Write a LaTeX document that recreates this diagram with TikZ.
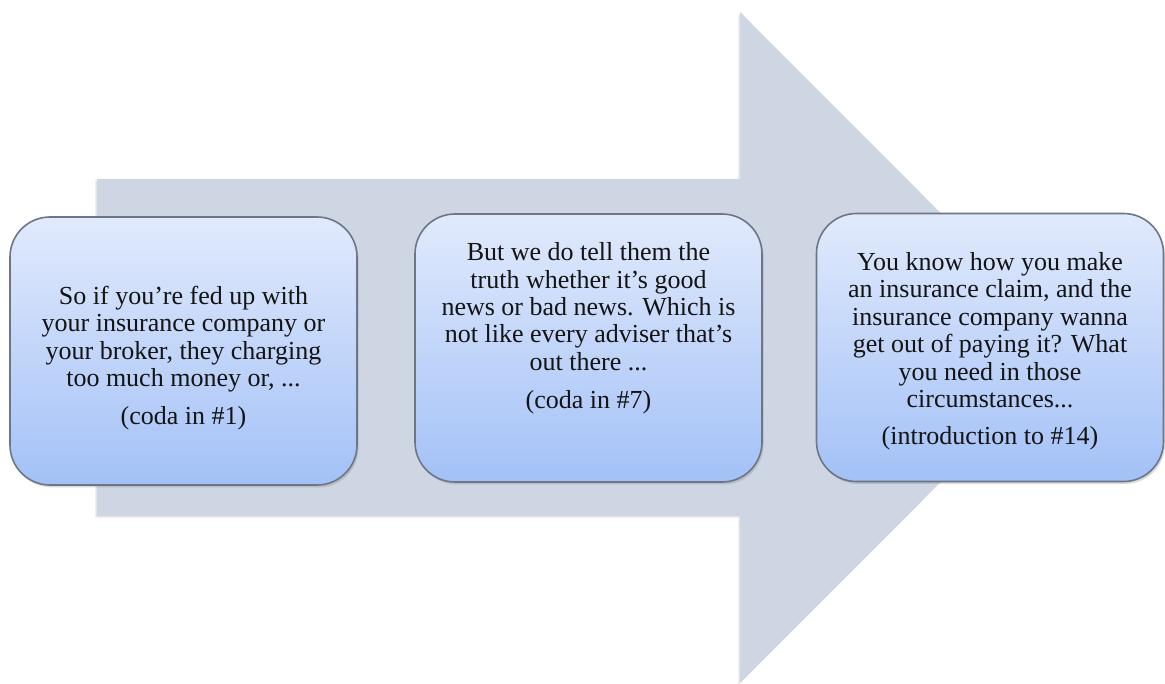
\documentclass[tikz,border=0pt]{standalone}
\usepackage{fontspec}
\setmainfont{Liberation Serif}
\usetikzlibrary{positioning,shadows}
\definecolor{inkBlack}{RGB}{20, 20, 20}
\definecolor{arrowFill}{RGB}{206, 213, 227}
\definecolor{boxTop}{RGB}{225, 234, 252}
\definecolor{boxBottom}{RGB}{163, 193, 247}
\definecolor{boxRule}{RGB}{108, 118, 134}

\tikzset{
  stagebox/.style={draw=boxRule, line width=0.8pt, rounded corners=20pt,
    top color=boxTop, bottom color=boxBottom, inner sep=0pt,
    minimum width=173.5pt, minimum height=134pt,
    drop shadow={shadow xshift=0.8pt, shadow yshift=-1.2pt, opacity=0.3}},
  stagetext/.style={align=center, text=inkBlack, inner sep=0pt,
    font=\fontsize{13pt}{13.7pt}\selectfont},
}

\begin{document}
\begin{tikzpicture}[x=0.5pt, y=-0.5pt]
    \useasboundingbox (0,0) rectangle (1165,684);

    % big background arrow
    \fill[arrowFill, drop shadow={shadow xshift=-0.8pt, shadow yshift=-0.8pt, opacity=0.2}]
        (97,179) -- (740,179) -- (740,12) -- (1075,347.5)
        -- (740,683) -- (740,516) -- (97,516) -- cycle;

    % the three stages
    \node[stagebox] (coda1) at (183.5,351) {};
    \node[stagebox] (coda7) at (588.5,348) {};
    \node[stagebox] (intro14) at (990,347.5) {};

    \node[stagetext, yshift=-3.5pt] (coda1text) at (coda1.center)
        {So if you’re fed up with\\your insurance company or\\your broker, they charging\\too much money or, ...\\[5pt](coda in \#1)};
    \node[stagetext, yshift=9.75pt] (coda7text) at (coda7.center)
        {But we do tell them the\\truth whether it’s good\\news or bad news. Which is\\not like every adviser that’s\\out there ...\\[5.5pt](coda in \#7)};
    \node[stagetext, yshift=-2pt] (intro14text) at (intro14.center)
        {You know how you make\\an insurance claim, and the\\insurance company wanna\\get out of paying it? What\\you need in those\\circumstances...\\[5pt](introduction to \#14)};
\end{tikzpicture}
\end{document}
